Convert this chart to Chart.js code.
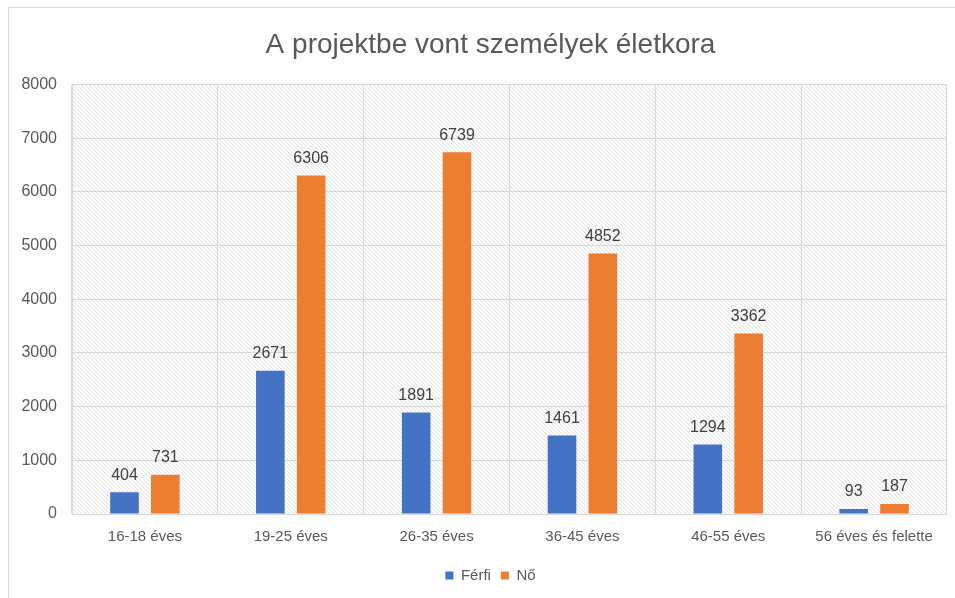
<!DOCTYPE html>
<html>
<head>
<meta charset="utf-8">
<script src="https://cdn.jsdelivr.net/npm/chart.js@4.4.1/dist/chart.umd.min.js"></script>
<style>
  html, body { margin: 0; padding: 0; overflow: hidden; background: #fff; }
  canvas { display: block; }
</style>
</head>
<body>
<canvas id="chart" width="975" height="598"></canvas>
<script>
const categories = ['16-18 éves', '19-25 éves', '26-35 éves', '36-45 éves', '46-55 éves', '56 éves és felette'];
const ferfiValues = [404, 2671, 1891, 1461, 1294, 93];
const noValues = [731, 6306, 6739, 4852, 3362, 187];
const yTicks = [0, 1000, 2000, 3000, 4000, 5000, 6000, 7000, 8000];

const TEXT_COLOR = '#595959';
const GRID_COLOR = '#d9d9d9';
const FONT = 'Liberation Sans, Arial, sans-serif';

// pale diagonal hatch used as plot background
function makeHatch() {
  const c = document.createElement('canvas');
  c.width = 4;
  c.height = 4;
  const g = c.getContext('2d');
  g.fillStyle = '#fff';
  g.fillRect(0, 0, 4, 4);
  for (let i = 0; i < 4; i++) {
    g.fillStyle = '#e6e6e6';
    g.fillRect(i, i, 1, 1);
    g.fillStyle = '#f5f5f5';
    g.fillRect((i + 1) % 4, i, 1, 1);
  }
  return c;
}

const backgroundPlugin = {
  id: 'hatchBackground',
  afterLayout(chart) {
    // the original chart is wider than the crop, so centre title and legend a bit to the right
    chart.titleBlock.left = 34;
    chart.legend.left = 34;
  },
  beforeDraw(chart) {
    const { ctx, chartArea } = chart;
    ctx.save();
    ctx.strokeStyle = GRID_COLOR;
    ctx.lineWidth = 1;
    ctx.strokeRect(8.5, 7.5, 1000, 700);
    ctx.fillStyle = ctx.createPattern(makeHatch(), 'repeat');
    ctx.fillRect(chartArea.left, chartArea.top, chartArea.right - chartArea.left, chartArea.bottom - chartArea.top);
    ctx.restore();
  }
};

const valueLabelPlugin = {
  id: 'valueLabels',
  afterDatasetsDraw(chart) {
    const { ctx } = chart;
    ctx.save();
    ctx.font = '16px ' + FONT;
    ctx.fillStyle = '#404040';
    ctx.textAlign = 'center';
    ctx.textBaseline = 'bottom';
    chart.data.datasets.forEach((ds, i) => {
      chart.getDatasetMeta(i).data.forEach((bar, j) => {
        ctx.fillText(String(ds.data[j]), bar.x, bar.y - 9);
      });
    });
    ctx.restore();
  }
};

new Chart(document.getElementById('chart'), {
  type: 'bar',
  data: {
    labels: categories,
    datasets: [
      {
        label: 'Férfi',
        data: ferfiValues,
        backgroundColor: '#4472C4',
        categoryPercentage: 0.56,
        barPercentage: 0.7
      },
      {
        label: 'Nő',
        data: noValues,
        backgroundColor: '#ED7D31',
        categoryPercentage: 0.56,
        barPercentage: 0.7
      }
    ]
  },
  options: {
    responsive: false,
    animation: false,
    devicePixelRatio: 1,
    layout: { padding: { left: 0, right: 28, top: 0, bottom: 5 } },
    plugins: {
      title: {
        display: true,
        text: 'A projektbe vont személyek életkora',
        color: TEXT_COLOR,
        font: { family: FONT, size: 28, weight: 'normal' },
        padding: { top: 28, bottom: 23 }
      },
      legend: {
        position: 'bottom',
        labels: {
          color: TEXT_COLOR,
          font: { family: FONT, size: 15 },
          boxWidth: 8,
          boxHeight: 8,
          padding: 10
        }
      },
      tooltip: { enabled: false }
    },
    scales: {
      x: {
        grid: { color: GRID_COLOR, drawTicks: false },
        border: { color: GRID_COLOR },
        ticks: { color: TEXT_COLOR, font: { family: FONT, size: 15 }, padding: 14, maxRotation: 0 },
        afterFit(scale) { scale.height = 44; }
      },
      y: {
        min: 0,
        max: 8000,
        afterBuildTicks(scale) { scale.ticks = yTicks.map(v => ({ value: v })); },
        grid: { color: GRID_COLOR, drawTicks: false },
        border: { color: GRID_COLOR },
        ticks: {
          color: TEXT_COLOR,
          font: { family: FONT, size: 16 },
          padding: 15,
          callback: v => String(v)
        },
        afterFit(scale) { scale.width = 72; }
      }
    }
  },
  plugins: [backgroundPlugin, valueLabelPlugin]
});
</script>
</body>
</html>
